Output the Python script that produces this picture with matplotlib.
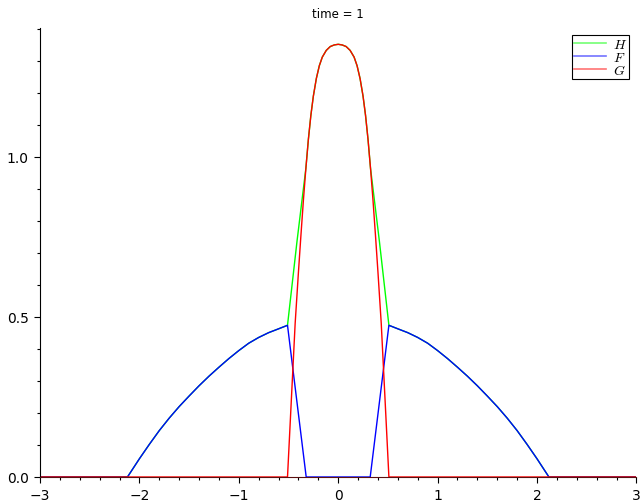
import numpy as np
import matplotlib.pyplot as plt
from matplotlib.ticker import MultipleLocator

plt.rcParams['mathtext.fontset'] = 'cm'

# valores (time = 1)
# G: pico central
x_g = [-3.0, -0.51, -0.47, -0.433, -0.40, -0.375, -0.35, -0.325, -0.30, -0.275, -0.25, -0.22, -0.19,
       -0.16, -0.12, -0.08, -0.04, 0.0,
       0.04, 0.08, 0.12, 0.16, 0.19, 0.22, 0.25, 0.275, 0.30, 0.325, 0.35, 0.375, 0.40, 0.433,
       0.47, 0.51, 3.0]
y_g = [0.0, 0.0, 0.25, 0.48, 0.64, 0.755, 0.865, 0.965, 1.055, 1.13, 1.19, 1.245, 1.285,
       1.312, 1.333, 1.345, 1.35, 1.352,
       1.35, 1.345, 1.333, 1.312, 1.285, 1.245, 1.19, 1.13, 1.055, 0.965, 0.865, 0.755, 0.64, 0.48,
       0.25, 0.0, 0.0]

# F: dos lobulos laterales
x_f = [-3.0, -2.12, -2.0, -1.9, -1.8, -1.7, -1.6, -1.5, -1.4, -1.3, -1.2, -1.1, -1.0, -0.9, -0.8,
       -0.7, -0.6, -0.51, -0.322,
       0.322, 0.51, 0.6, 0.7, 0.8, 0.9, 1.0, 1.1, 1.2, 1.3, 1.4, 1.5, 1.6, 1.7, 1.8, 1.9, 2.0,
       2.12, 3.0]
y_f = [0.0, 0.0, 0.057, 0.102, 0.145, 0.184, 0.220, 0.253, 0.285, 0.315, 0.343, 0.370, 0.395,
       0.418, 0.436, 0.451, 0.463, 0.474, 0.0,
       0.0, 0.474, 0.463, 0.451, 0.436, 0.418, 0.395, 0.370, 0.343, 0.315, 0.285, 0.253, 0.220,
       0.184, 0.145, 0.102, 0.057, 0.0, 0.0]

# H: total
x_h = [-3.0, -2.12, -2.0, -1.9, -1.8, -1.7, -1.6, -1.5, -1.4, -1.3, -1.2, -1.1, -1.0, -0.9, -0.8,
       -0.7, -0.6, -0.51, -0.415, -0.325, -0.30, -0.275, -0.25, -0.22, -0.19, -0.16, -0.12,
       -0.08, -0.04, 0.0,
       0.04, 0.08, 0.12, 0.16, 0.19, 0.22, 0.25, 0.275, 0.30, 0.325, 0.415, 0.51,
       0.6, 0.7, 0.8, 0.9, 1.0, 1.1, 1.2, 1.3, 1.4, 1.5, 1.6, 1.7, 1.8, 1.9, 2.0, 2.12, 3.0]
y_h = [0.0, 0.0, 0.057, 0.102, 0.145, 0.184, 0.220, 0.253, 0.285, 0.315, 0.343, 0.370, 0.395,
       0.418, 0.436, 0.451, 0.463, 0.474, 0.735, 0.965, 1.055, 1.13, 1.19, 1.245, 1.285, 1.312,
       1.333, 1.345, 1.35, 1.352,
       1.35, 1.345, 1.333, 1.312, 1.285, 1.245, 1.19, 1.13, 1.055, 0.965, 0.735, 0.474,
       0.463, 0.451, 0.436, 0.418, 0.395, 0.370, 0.343, 0.315, 0.285, 0.253, 0.220, 0.184,
       0.145, 0.102, 0.057, 0.0, 0.0]

fig = plt.figure(figsize=(6.41, 5.02), dpi=100)
ax = fig.add_axes([40/641, 24/502, 596.4/641, 448.7/502])

ax.plot(x_h, y_h, color='#00ff00', lw=1, label='$H$')
ax.plot(x_f, y_f, color='#0000ff', lw=1, label='$F$')
ax.plot(x_g, y_g, color='#ff0000', lw=1, label='$G$')

ax.set_xlim(-3, 3)
ax.set_ylim(0, 1.402)
ax.spines['top'].set_visible(False)
ax.spines['right'].set_visible(False)
ax.spines['bottom'].set_color('#5a1010')
ax.xaxis.set_major_locator(MultipleLocator(1))
ax.xaxis.set_minor_locator(MultipleLocator(0.2))
ax.yaxis.set_major_locator(MultipleLocator(0.5))
ax.yaxis.set_minor_locator(MultipleLocator(0.1))
ax.yaxis.set_major_formatter(plt.FormatStrFormatter('%.1f'))
ax.tick_params(which='major', length=4.5, width=0.8, labelsize=10, direction='out')
ax.tick_params(which='minor', length=2.5, width=0.8, direction='out')

ax.set_title('time = 1', fontsize=8.5, pad=8)

leg = ax.legend(loc='upper right', fontsize=10, fancybox=False, framealpha=1,
                labelspacing=-0.1, borderpad=0.15, handlelength=2.3, handletextpad=0.5,
                borderaxespad=0.5)
leg.get_frame().set_edgecolor('black')
leg.get_frame().set_linewidth(0.8)
for h in leg.get_lines():
    h.set_alpha(0.55)
    h.set_linewidth(1.2)

fig.savefig('out.png', dpi=100)
